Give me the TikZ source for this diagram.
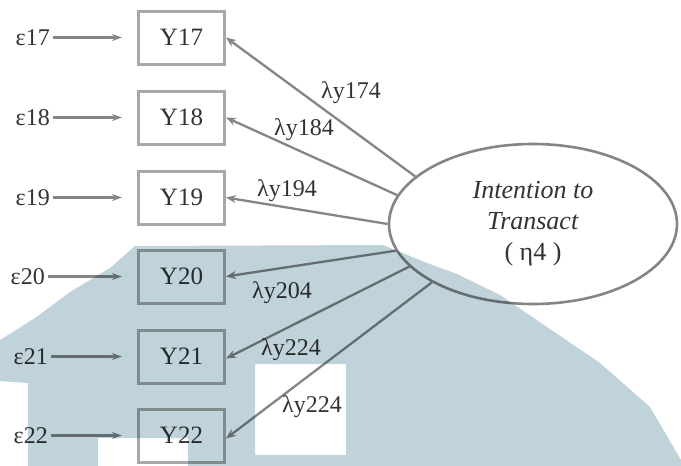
\documentclass[tikz,border=0pt]{standalone}
\usepackage{fontspec}
\setmainfont{Liberation Serif}
\usetikzlibrary{shapes.geometric,arrows.meta}
\definecolor{wm}{HTML}{C1D3DA}
\definecolor{lc}{HTML}{858585}
\definecolor{bc}{HTML}{A8A8A8}
\definecolor{tc}{HTML}{333333}
\begin{document}
\begin{tikzpicture}[x=1pt,y=-1pt,
  font=\fontsize{24}{28}\selectfont, text=tc,
  box/.style={draw=bc, line width=3pt, minimum width=86pt, minimum height=53pt, inner sep=0pt,
              font=\fontsize{25}{28}\selectfont},
  arr/.style={draw=lc, line width=2.3pt, -{Stealth[length=10pt,width=8pt]}},
  earr/.style={draw=lc, line width=2.3pt, -{Stealth[length=10pt,width=7pt]}, shorten >=15pt, shorten <=3pt},
  lab/.style={inner sep=0pt},
  eps/.style={anchor=east, inner sep=0pt}]
\useasboundingbox (0,0) rectangle (681,466);

% latent variable
\node[ellipse, draw=lc, line width=2.6pt, fill=white, minimum width=288pt, minimum height=160pt,
      inner sep=0pt, align=center, font=\fontsize{26}{31}\selectfont] (eta) at (533,224)
  {\textit{Intention to}\\\textit{Transact}\\( η4 )};

% indicators
\node[box] (y17) at (181.5,37.5) {Y17};
\node[box] (y18) at (181.5,117.5) {Y18};
\node[box] (y19) at (181.5,197.5) {Y19};
\node[box] (y20) at (181.5,276.5) {Y20};
\node[box] (y21) at (181.5,356.5) {Y21};
\node[box] (y22) at (181.5,435.5) {Y22};

% errors
\node[eps] (e17) at (50,37.5) {ε17};
\node[eps] (e18) at (50,117.5) {ε18};
\node[eps] (e19) at (50,197.5) {ε19};
\node[eps] (e20) at (45,276.5) {ε20};
\node[eps] (e21) at (48,356.5) {ε21};
\node[eps] (e22) at (48,435.5) {ε22};

\foreach \i in {17,...,22} \draw[earr] (e\i) -- (y\i);

% loadings
\draw[arr] (eta.158) -- (y17.east);
\draw[arr] (eta.168) -- (y18.east);
\draw[arr] (eta.180) -- (y19.east);
\draw[arr] (eta.191) -- (y20.east);
\draw[arr] (eta.199) -- ([yshift=-2pt]y21.east);
\draw[arr] (eta.210) -- ([yshift=-3pt]y22.east);

\node[lab] (l17) at (351,93) {λy174};
\node[lab] (l18) at (304,130) {λy184};
\node[lab] (l19) at (287,191) {λy194};
\node[lab] (l20) at (282,293) {λy204};
\node[lab] (l21) at (291,350) {λy224};
\node[lab] (l22) at (312,407) {λy224};

% watermark overlay
\begin{scope}[blend mode=multiply]
\fill[wm, even odd rule]
  (135,246) -- (383,245) -- (427,263) -- (457,274) -- (500,295) -- (550,329)
  -- (600,363) -- (650,407) -- (681,460) -- (681,467) -- (28,467) -- (28,383)
  -- (0,381) -- (0,340) -- (35,318) -- (70,292) -- (110,268) -- cycle
  (255,364) rectangle (346,455)
  (98,438) rectangle (188,467);
\end{scope}
\end{tikzpicture}
\end{document}
